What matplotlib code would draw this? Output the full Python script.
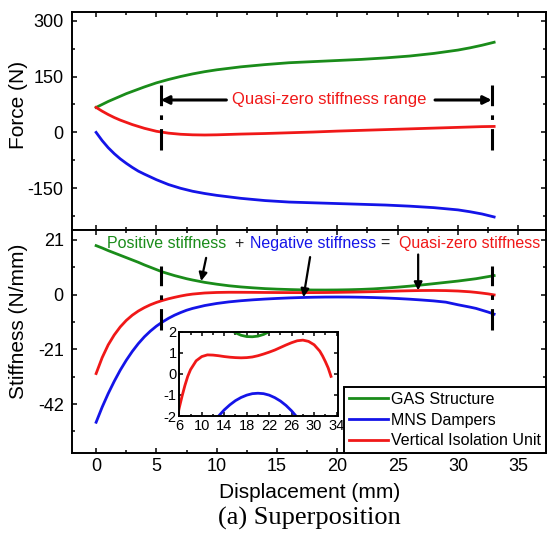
import matplotlib
matplotlib.use("Agg")
import matplotlib.pyplot as plt
from matplotlib.ticker import MultipleLocator

plt.rcParams['font.family'] = ['Liberation Sans', 'DejaVu Sans']
plt.rcParams['axes.unicode_minus'] = False

# ---------------- data ----------------
disp_force = [0, 0.5, 1, 1.5, 2, 2.5, 3, 3.5, 4, 5, 6, 7, 8, 9, 10, 12, 14, 16, 18, 20,
              22, 24, 26, 28, 30, 31, 32, 33]
force_gas = [67, 75, 83, 90, 97, 104, 110, 116, 122, 133, 142, 150, 157, 163, 168, 176,
             182, 187, 190, 193, 196, 200, 205, 212, 221, 227, 234, 242]
force_mns = [0, -22, -41, -57, -71, -83, -94, -104, -112, -127, -140, -150, -158, -164,
             -169, -177, -183, -187, -189, -191, -193, -195, -198, -202, -208, -213, -219, -227]
force_viu = [67, 57, 48, 40, 33, 27, 21, 16, 11, 3, -2, -5, -6.5, -7, -6.5, -4.5, -3, -1,
             1, 3.5, 5.5, 7.5, 9.5, 11.5, 13.5, 14.5, 15.5, 16]

disp_stiff = [0, 0.5, 1, 1.5, 2, 2.5, 3, 3.5, 4, 4.5, 5, 5.5, 6, 6.5, 7, 7.5, 8, 9, 10,
              11, 12, 13, 14, 15, 16, 17, 18, 19, 20, 21, 22, 23, 24, 25, 26, 27, 28, 29,
              30, 31, 31.5, 32, 32.5, 33]
stiff_gas = [18.8, 17.9, 16.9, 16.0, 15.1, 14.2, 13.3, 12.4, 11.4, 10.5, 9.6, 8.7, 8.0,
             7.3, 6.7, 6.1, 5.6, 4.7, 4.0, 3.4, 2.95, 2.6, 2.3, 2.1, 1.95, 1.83, 1.77, 1.76,
             1.79, 1.87, 2.0, 2.2, 2.5, 2.85, 3.25, 3.7, 4.2, 4.7, 5.2, 5.8, 6.1, 6.5, 6.9, 7.3]
stiff_mns = [-49.0, -43.2, -38.0, -33.3, -29.0, -25.2, -21.8, -18.8, -16.2, -14.0, -12.1,
             -10.5, -9.1, -7.9, -6.9, -6.0, -5.3, -4.2, -3.4, -2.8, -2.35, -2.0, -1.71,
             -1.47, -1.27, -1.12, -1.01, -0.94, -0.92, -0.94, -1.01, -1.13, -1.29, -1.50,
             -1.76, -2.07, -2.42, -2.9, -3.9, -4.8, -5.3, -6.0, -6.7, -7.5]
stiff_viu = [-30.3, -24.2, -19.3, -15.5, -12.4, -9.9, -7.9, -6.3, -5.0, -3.9, -3.0, -2.25,
             -1.6, -1.05, -0.55, -0.12, 0.2, 0.62, 0.82, 0.9, 0.89, 0.86, 0.82, 0.79, 0.77,
             0.76, 0.77, 0.8, 0.86, 0.94, 1.03, 1.13, 1.25, 1.37, 1.48, 1.57, 1.6, 1.54,
             1.38, 1.08, 0.85, 0.58, 0.28, -0.12]

series_labels = ['GAS Structure', 'MNS Dampers', 'Vertical Isolation Unit']
qz_start, qz_end = 5.37, 32.8

# ---------------- style ----------------
C_G = '#1a8c1a'
C_B = '#1414e8'
C_R = '#f01818'
W, H = 548, 535
LW = 2.0

fig = plt.figure(figsize=(W / 100, H / 100), dpi=100)

def px_axes(l, t, r, b):
    return fig.add_axes([l / W, 1 - b / H, (r - l) / W, (b - t) / H])

ax1 = px_axes(72, 11.7, 546, 230)
ax2 = px_axes(72, 230, 546, 453)

def style(ax, lab_size=13, major=3.8, minor=2.2):
    for s in ax.spines.values():
        s.set_linewidth(1.4)
    ax.tick_params(which='both', direction='in', top=True, right=True, width=1.1,
                   labelsize=lab_size, colors='black')
    ax.tick_params(which='major', length=major)
    ax.tick_params(which='minor', length=minor)

for ax in (ax1, ax2):
    style(ax)
    ax.set_xlim(-2, 37.3)
    ax.xaxis.set_major_locator(MultipleLocator(5))
    ax.xaxis.set_minor_locator(MultipleLocator(2.5))
    ax.tick_params(axis='y', pad=6)

# top panel: force
ax1.plot(disp_force, force_gas, color=C_G, lw=LW)
ax1.plot(disp_force, force_mns, color=C_B, lw=LW)
ax1.plot(disp_force, force_viu, color=C_R, lw=LW)
ax1.set_ylim(-262, 324)
ax1.yaxis.set_major_locator(MultipleLocator(150))
ax1.yaxis.set_minor_locator(MultipleLocator(75))
ax1.tick_params(labelbottom=False)

ax1.vlines([qz_start, qz_end], -46, 127, colors='k', lw=2.2,
           linestyles=[(0, (7, 3, 1.5, 3))])
yarr = 87
ax1.text(19.3, yarr, 'Quasi-zero stiffness range', color=C_R, fontsize=12,
         ha='center', va='center')
arr = dict(arrowstyle='-|>', color='k', lw=2.2, mutation_scale=12, shrinkA=0, shrinkB=0)
ax1.annotate('', xy=(qz_start, yarr), xytext=(10.8, yarr), arrowprops=arr)
ax1.annotate('', xy=(qz_end, yarr), xytext=(28.1, yarr), arrowprops=arr)

# bottom panel: stiffness
l1, = ax2.plot(disp_stiff, stiff_gas, color=C_G, lw=LW)
l2, = ax2.plot(disp_stiff, stiff_mns, color=C_B, lw=LW)
l3, = ax2.plot(disp_stiff, stiff_viu, color=C_R, lw=LW)
ax2.set_ylim(-60.8, 24.8)
ax2.yaxis.set_major_locator(MultipleLocator(21))
ax2.yaxis.set_minor_locator(MultipleLocator(10.5))

ax2.vlines([qz_start, qz_end], -13.5, 11, colors='k', lw=2.2,
           linestyles=[(0, (7, 3, 1.5, 3))])

ytxt = 19.5
fs_t = 11.5
ax2.text(0.94, ytxt, 'Positive stiffness', color=C_G, fontsize=fs_t, ha='left', va='center')
ax2.text(11.83, ytxt, '+', color='#222222', fontsize=fs_t, ha='center', va='center')
ax2.text(12.77, ytxt, 'Negative stiffness', color=C_B, fontsize=fs_t, ha='left', va='center')
ax2.text(23.92, ytxt, '=', color='#222222', fontsize=fs_t, ha='center', va='center')
ax2.text(25.08, ytxt, 'Quasi-zero stiffness', color=C_R, fontsize=fs_t, ha='left', va='center')

arr2 = dict(arrowstyle='-|>', color='k', lw=1.6, mutation_scale=12, shrinkA=0, shrinkB=0)
ax2.annotate('', xy=(8.71, 5.2), xytext=(9.12, 14.1), arrowprops=arr2)
ax2.annotate('', xy=(17.19, -1.0), xytext=(17.74, 14.4), arrowprops=arr2)
ax2.annotate('', xy=(26.7, 1.6), xytext=(26.7, 15.4), arrowprops=arr2)

leg = ax2.legend([l1, l2, l3], series_labels, loc='lower right', fontsize=11.5,
                 borderaxespad=0, fancybox=False, edgecolor='black', framealpha=1,
                 handlelength=2.45, handletextpad=0.22, borderpad=0.3, labelspacing=0.35)
leg.get_frame().set_linewidth(1.4)

# inset
axi = px_axes(179.3, 331.7, 338.3, 416)
axi.plot(disp_stiff, stiff_gas, color=C_G, lw=LW)
axi.plot(disp_stiff, stiff_mns, color=C_B, lw=LW)
axi.plot(disp_stiff, stiff_viu, color=C_R, lw=LW)
axi.set_xlim(6, 34.3)
axi.set_ylim(-2, 2)
style(axi, lab_size=10.5, major=3.0, minor=1.8)
axi.xaxis.set_major_locator(MultipleLocator(4, offset=2))
axi.xaxis.set_minor_locator(MultipleLocator(2))
axi.yaxis.set_major_locator(MultipleLocator(1))
axi.tick_params(axis='both', pad=2)

# labels
fig.text(19 / W, 1 - 105 / H, 'Force (N)', rotation=90, ha='center', va='center', fontsize=15)
fig.text(19 / W, 1 - 321 / H, 'Stiffness (N/mm)', rotation=90, ha='center', va='center',
         fontsize=15)
fig.text(310 / W, 1 - 493 / H, 'Displacement (mm)', ha='center', va='center', fontsize=15)
fig.text(309 / W, 1 - 518 / H, '(a) Superposition', ha='center', va='center', fontsize=19,
         family=['Liberation Serif', 'DejaVu Serif'])

fig.savefig('out.png', dpi=100)
